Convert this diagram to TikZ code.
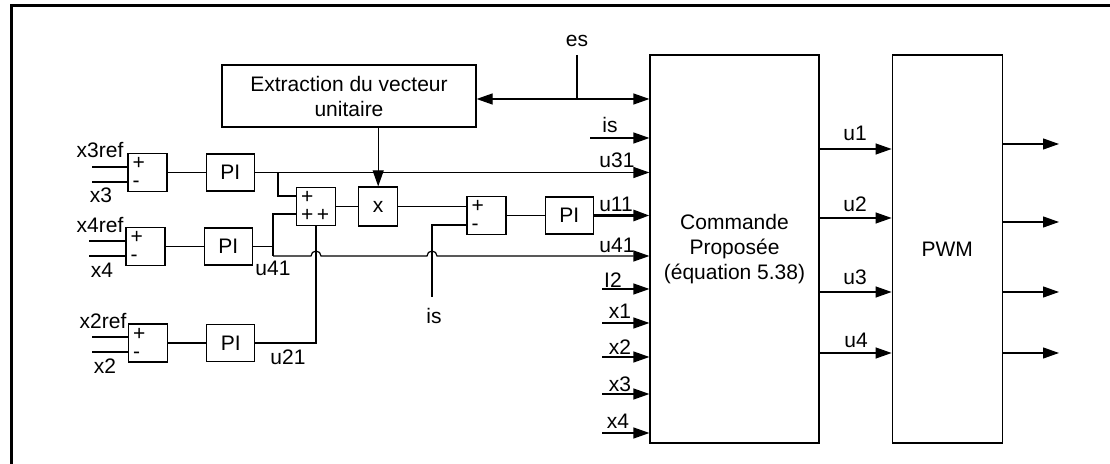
\documentclass[tikz,border=0pt]{standalone}
\usepackage{fontspec}
\setmainfont{Liberation Sans}
\usetikzlibrary{arrows.meta,positioning,calc}

\begin{document}
\begin{tikzpicture}[
  x=0.5pt, y=-0.5pt,
  font=\fontsize{10.5}{12.5}\selectfont,
  blk/.style={draw, line width=0.6pt, align=center, inner sep=1pt},
  sumbox/.style={draw, line width=0.6pt, minimum width=19.5pt, minimum height=18.5pt,
                 text width=15pt, align=left, inner sep=2pt,
                 font=\fontsize{10.5}{9}\selectfont},
  pibox/.style={draw, line width=0.6pt, minimum width=24pt, minimum height=18.5pt},
  wire/.style={line width=0.6pt},
  arr/.style={-{Triangle[length=8pt,width=5.5pt]}, line width=0.6pt},
  lbl/.style={inner sep=0pt},
]
  \useasboundingbox (0,0) rectangle (1110,464);
  \draw[line width=1.5pt] (11,464) |- (1110,5.5);

  %% Main blocks
  \node[blk, minimum width=127pt, minimum height=31pt] (ext) at (349,96)
    {Extraction du vecteur\\unitaire};
  \node[blk, minimum width=84.5pt, minimum height=194pt] (cmd) at (734.5,249)
    {Commande\\Proposée\\(équation 5.38)};
  \node[blk, minimum width=55pt, minimum height=194pt, right=36pt of cmd] (pwm) {PWM};

  %% Loops on the left, top to bottom
  \node[sumbox] (sx3) at (147.5,172.5) {+\\-};
  \node[pibox, right=19pt of sx3] (pix3) {PI};
  \node[sumbox] (sx4) at (145.5,246.5) {+\\-};
  \node[pibox, right=19pt of sx4] (pix4) {PI};
  \node[sumbox] (sx2) at (148,343) {+\\-};
  \node[pibox, right=19pt of sx2] (pix2) {PI};

  %% Adder, product and current loop
  \node[sumbox] (sadd) at (316,206.5) {+\\+\,+};
  \node[blk, minimum width=19.5pt, minimum height=19.5pt, right=11pt of sadd] (mul) {x};
  \node[sumbox] (sis) at (486.5,215.5) {+\\-};
  \node[pibox, right=19pt of sis] (piis) {PI};

  %% Free ends
  \coordinate (r3) at (92,167);
  \coordinate (m3) at (92,182);
  \coordinate (r4) at (89,241);
  \coordinate (m4) at (89,256);
  \coordinate (r2) at (92,337);
  \coordinate (m2) at (92,352);
  \coordinate (b31) at (278,172.5);
  \coordinate (j4) at (273,246.5);
  \coordinate (j41) at (273,256);
  \coordinate (isb) at (432,297);
  \coordinate (hop1) at (sadd.south |- j41);
  \coordinate (hop2) at (isb |- j41);
  \coordinate (es) at (577,55);
  \coordinate (esj) at (577,99);
  \coordinate (iis) at (590,138);
  \coordinate (iI2) at (602,289);
  \coordinate (ix1) at (602,323);
  \coordinate (ix2) at (602,357);
  \coordinate (ix3) at (602,394);
  \coordinate (ix4) at (602,433);
  \coordinate (o1) at (1059,144);
  \coordinate (o2) at (1059,222);
  \coordinate (o3) at (1059,292);
  \coordinate (o4) at (1059,353);

  %% x3 loop
  \draw[wire] (r3) -- (r3 -| sx3.west);
  \draw[wire] (m3) -- (m3 -| sx3.west);
  \draw[wire] (sx3) -- (pix3);
  \draw[arr] (pix3.east) -- (pix3.east -| cmd.west);
  \draw[wire] (b31) |- ([yshift=5.25pt]sadd.west);

  %% x4 loop
  \draw[wire] (r4) -- (r4 -| sx4.west);
  \draw[wire] (m4) -- (m4 -| sx4.west);
  \draw[wire] (sx4) -- (pix4);
  \draw[wire] (pix4.east) -- (j4);
  \draw[wire] ([yshift=-3.75pt]sadd.west) -| (j41);
  \draw[arr] (j41) -- ([xshift=-2.5pt]hop1) arc[start angle=180, end angle=0, radius=2.5pt]
    -- ([xshift=-2.5pt]hop2) arc[start angle=180, end angle=0, radius=2.5pt]
    -- (j41 -| cmd.west);

  %% x2 loop
  \draw[wire] (r2) -- (r2 -| sx2.west);
  \draw[wire] (m2) -- (m2 -| sx2.west);
  \draw[wire] (sx2) -- (pix2);
  \draw[wire] (pix2.east) -| (sadd.south);

  %% Unit vector, product, current loop
  \draw[wire] (sadd) -- (mul);
  \draw[arr] (ext.south -| mul.north) -- (mul.north);
  \draw[wire] (es) -- (esj);
  \draw[arr] (esj) -- (esj -| cmd.west);
  \draw[arr] (esj) -- (esj -| ext.east);
  \draw[wire] (mul.east) -- (mul.east -| sis.west);
  \draw[wire] (isb) |- ([yshift=-4.75pt]sis.west);
  \draw[wire] (sis) -- (piis);
  \draw[arr, line width=1.4pt] (piis.east) -- (piis.east -| cmd.west);

  %% Other inputs of the command block
  \draw[arr] (iis) -- (iis -| cmd.west);
  \draw[arr] (iI2) -- (iI2 -| cmd.west);
  \draw[arr] (ix1) -- (ix1 -| cmd.west);
  \draw[arr] (ix2) -- (ix2 -| cmd.west);
  \draw[arr] (ix3) -- (ix3 -| cmd.west);
  \draw[arr] (ix4) -- (ix4 -| cmd.west);

  %% Command -> PWM -> outputs
  \draw[arr] ([yshift=50pt]cmd.east) -- ([yshift=50pt]cmd.east -| pwm.west);
  \draw[arr] ([yshift=15.5pt]cmd.east) -- ([yshift=15.5pt]cmd.east -| pwm.west);
  \draw[arr] ([yshift=-21.5pt]cmd.east) -- ([yshift=-21.5pt]cmd.east -| pwm.west);
  \draw[arr] ([yshift=-52pt]cmd.east) -- ([yshift=-52pt]cmd.east -| pwm.west);
  \draw[arr] (o1 -| pwm.east) -- (o1);
  \draw[arr] (o2 -| pwm.east) -- (o2);
  \draw[arr] (o3 -| pwm.east) -- (o3);
  \draw[arr] (o4 -| pwm.east) -- (o4);

  %% Labels
  \node[lbl] (lr3) at (100,150) {x3ref};
  \node[lbl] (lm3) at (101,195) {x3};
  \node[lbl] (lr4) at (100,225) {x4ref};
  \node[lbl] (lm4) at (102,270) {x4};
  \node[lbl] (lr2) at (103,321) {x2ref};
  \node[lbl] (lm2) at (105,366) {x2};
  \node[lbl] (lu41a) at (273,268) {u41};
  \node[lbl] (lu21) at (288,357) {u21};
  \node[lbl] (lis) at (434,316) {is};
  \node[lbl] (les) at (577,41) {es};
  \node[lbl] (liis) at (610,125) {is};
  \node[lbl] (lu31) at (617,160) {u31};
  \node[lbl] (lu11) at (616,204) {u11};
  \node[lbl] (lu41b) at (617,245) {u41};
  \node[lbl] (lI2) at (613,280) {I2};
  \node[lbl] (lx1) at (620,311) {x1};
  \node[lbl] (lx2) at (620,347) {x2};
  \node[lbl] (lx3) at (620,384) {x3};
  \node[lbl] (lx4) at (618,421) {x4};
  \node[lbl] (lu1) at (855,133) {u1};
  \node[lbl] (lu2) at (855,204) {u2};
  \node[lbl] (lu3) at (855,277) {u3};
  \node[lbl] (lu4) at (856,340) {u4};

\end{tikzpicture}
\end{document}
